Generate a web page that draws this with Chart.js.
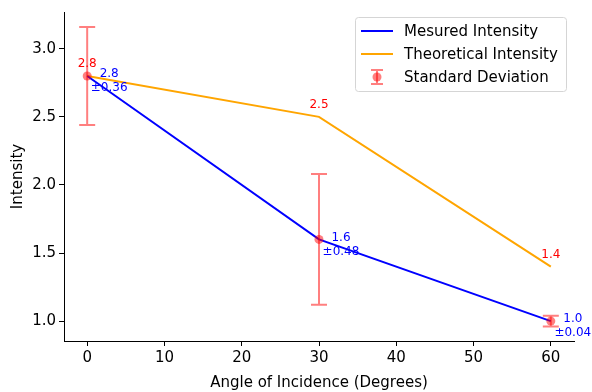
<!DOCTYPE html>
<html>
<head>
<meta charset="utf-8">
<script src="https://cdn.jsdelivr.net/npm/chart.js@4"></script>
<style>
  html, body { margin: 0; padding: 0; background: #fff; }
  #wrap { width: 592px; height: 392px; }
</style>
</head>
<body>
<div id="wrap"><canvas id="chart" width="592" height="392"></canvas></div>
<script>
const angles = [0, 30, 60];
const measured = [2.8, 1.6, 1.0];
const theoretical = [2.8, 2.5, 1.4];
const stdDev = [0.36, 0.48, 0.04];
const xTicks = [0, 10, 20, 30, 40, 50, 60];
const yTicks = [1.0, 1.5, 2.0, 2.5, 3.0];

const FONT = 'DejaVu Sans';
const toPts = (ys) => angles.map((a, i) => ({ x: a, y: ys[i] }));

const errorBars = {
  id: 'errorBars',
  afterDatasetsDraw(chart) {
    const { ctx, scales: { x, y } } = chart;
    ctx.save();
    ctx.strokeStyle = 'rgba(255,0,0,0.5)';
    ctx.lineWidth = 2;
    angles.forEach((a, i) => {
      const px = x.getPixelForValue(a);
      const top = y.getPixelForValue(measured[i] + stdDev[i]);
      const bot = y.getPixelForValue(measured[i] - stdDev[i]);
      ctx.beginPath();
      ctx.moveTo(px, top); ctx.lineTo(px, bot);
      ctx.moveTo(px - 8, top); ctx.lineTo(px + 8, top);
      ctx.moveTo(px - 8, bot); ctx.lineTo(px + 8, bot);
      ctx.stroke();
      ctx.fillStyle = 'rgba(255,0,0,0.5)';
      ctx.beginPath();
      ctx.arc(px, y.getPixelForValue(measured[i]), 4.5, 0, Math.PI * 2);
      ctx.fill();
    });

    // value labels
    ctx.font = '12px ' + FONT;
    ctx.textAlign = 'center';
    ctx.textBaseline = 'middle';
    angles.forEach((a, i) => {
      const px = x.getPixelForValue(a);
      ctx.fillStyle = 'red';
      ctx.fillText(theoretical[i].toFixed(1), px, y.getPixelForValue(theoretical[i]) - 12);
      ctx.fillStyle = 'blue';
      const py = y.getPixelForValue(measured[i]);
      ctx.fillText(measured[i].toFixed(1), px + 22, py - 2);
      ctx.fillText('\u00b1' + stdDev[i].toFixed(2), px + 22, py + 12);
    });
    ctx.restore();
  }
};

const boxLegend = {
  id: 'boxLegend',
  afterDraw(chart) {
    const ctx = chart.ctx;
    ctx.save();
    const bx = 355.5, by = 17.5, bw = 211, bh = 74, r = 3;
    ctx.fillStyle = 'rgba(255,255,255,0.8)';
    ctx.strokeStyle = '#d5d5d5';
    ctx.lineWidth = 1;
    ctx.beginPath();
    ctx.roundRect(bx, by, bw, bh, r);
    ctx.fill();
    ctx.stroke();
    const items = [
      { label: 'Mesured Intensity', color: 'blue', kind: 'line' },
      { label: 'Theoretical Intensity', color: 'orange', kind: 'line' },
      { label: 'Standard Deviation', color: 'rgba(255,0,0,0.5)', kind: 'err' }
    ];
    ctx.font = '15px ' + FONT;
    ctx.textBaseline = 'middle';
    ctx.textAlign = 'left';
    items.forEach((it, i) => {
      const cy = 31 + i * 23;
      if (it.kind === 'line') {
        ctx.strokeStyle = it.color;
        ctx.lineWidth = 2;
        ctx.beginPath();
        ctx.moveTo(361, cy); ctx.lineTo(393, cy);
        ctx.stroke();
      } else {
        const cx = 377;
        ctx.strokeStyle = it.color;
        ctx.lineWidth = 2;
        ctx.beginPath();
        ctx.moveTo(cx, cy - 7); ctx.lineTo(cx, cy + 7);
        ctx.moveTo(cx - 6, cy - 7); ctx.lineTo(cx + 6, cy - 7);
        ctx.moveTo(cx - 6, cy + 7); ctx.lineTo(cx + 6, cy + 7);
        ctx.stroke();
        ctx.fillStyle = it.color;
        ctx.beginPath();
        ctx.arc(cx, cy, 4.5, 0, Math.PI * 2);
        ctx.fill();
      }
      ctx.fillStyle = '#000';
      ctx.fillText(it.label, 404, cy + 1);
    });
    ctx.restore();
  }
};

const tickStyle = { color: '#000', font: { family: FONT, size: 15 }, padding: 3 };
const gridStyle = { display: true, drawOnChartArea: false, drawTicks: true, tickLength: 5, color: '#000', lineWidth: 1 };

new Chart(document.getElementById('chart').getContext('2d'), {
  type: 'scatter',
  data: {
    datasets: [
      {
        label: 'Mesured Intensity',
        data: toPts(measured),
        showLine: true,
        borderColor: 'blue',
        borderWidth: 2,
        pointRadius: 0,
        fill: false
      },
      {
        label: 'Theoretical Intensity',
        data: toPts(theoretical),
        showLine: true,
        borderColor: 'orange',
        borderWidth: 2,
        pointRadius: 0,
        fill: false
      }
    ]
  },
  options: {
    responsive: false,
    animation: false,
    layout: { padding: { top: 10, right: 18, left: 0, bottom: 0 } },
    plugins: { legend: { display: false }, tooltip: { enabled: false } },
    scales: {
      x: {
        type: 'linear',
        min: -3,
        max: 63,
        grid: gridStyle,
        border: { display: true, color: '#000', width: 1 },
        ticks: Object.assign({ callback: (v) => String(v) }, tickStyle),
        afterBuildTicks: (s) => { s.ticks = xTicks.map((v) => ({ value: v })); },
        afterFit: (s) => { s.height = 51; },
        title: { display: true, text: 'Angle of Incidence (Degrees)', color: '#000', font: { family: FONT, size: 15 }, padding: { top: 0, bottom: 0 } }
      },
      y: {
        type: 'linear',
        min: 0.854,
        max: 3.27,
        grid: gridStyle,
        border: { display: true, color: '#000', width: 1 },
        ticks: Object.assign({ callback: (v) => v.toFixed(1) }, tickStyle),
        afterBuildTicks: (s) => { s.ticks = yTicks.map((v) => ({ value: v })); },
        afterFit: (s) => { s.width = 64; },
        title: { display: true, text: 'Intensity', color: '#000', font: { family: FONT, size: 15 }, padding: { top: 9, bottom: 0 } }
      }
    }
  },
  plugins: [errorBars, boxLegend]
});
</script>
</body>
</html>
